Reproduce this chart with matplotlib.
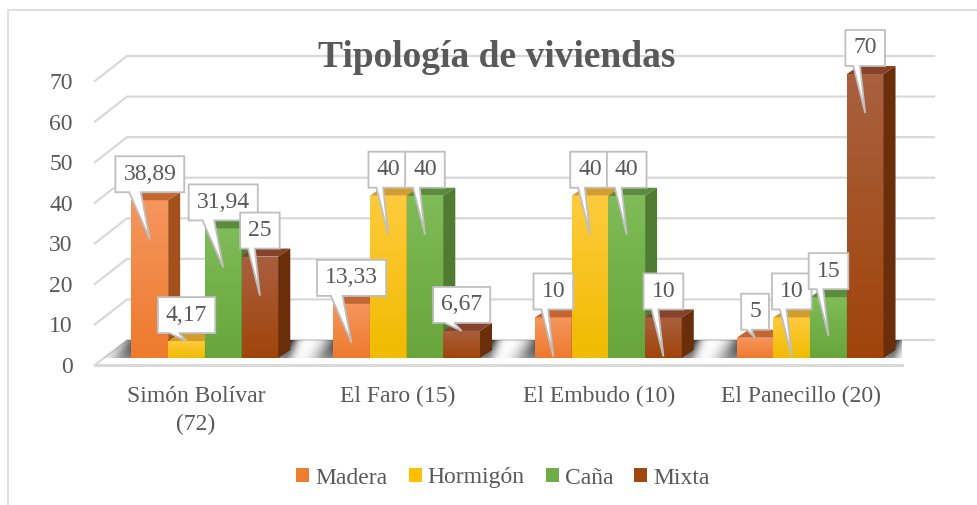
import numpy as np
import matplotlib.pyplot as plt
from matplotlib.patches import Polygon, Rectangle, Patch
from matplotlib.colors import LinearSegmentedColormap

plt.rcParams['font.family'] = ['Liberation Serif', 'DejaVu Serif']

categories = ['Simón Bolívar\n(72)', 'El Faro (15)', 'El Embudo (10)', 'El Panecillo (20)']
series = ['Madera', 'Hormigón', 'Caña', 'Mixta']
madera = [38.89, 13.33, 10, 5]
hormigon = [4.17, 40, 40, 10]
cana = [31.94, 40, 40, 15]
mixta = [25, 6.67, 10, 70]
yticks = [0, 10, 20, 30, 40, 50, 60, 70]

base_col = ['#ED7D31', '#FFC000', '#70AD47', '#9E480E']
front_top = ['#F5965E', '#FFCB3D', '#7FBB57', '#A9603F']
front_bot = ['#EE7A2D', '#F0BB00', '#68A53B', '#A0440A']
top_face = ['#C46631', '#D29D2C', '#5B8C3C', '#86422A']
side_face = ['#A4501C', '#B98B00', '#4F7B33', '#6A2E0B']
TXT = '#595959'
GRID = '#d9d9d9'

W, H, DPI = 977, 505, 100
fig = plt.figure(figsize=(W / DPI, H / DPI), dpi=DPI)
ax = fig.add_axes([95 / W, 140 / H, 807 / W, 284 / H])
SX = 807 / 4.0   # pixels per category
SY = 284 / 70.0  # pixels per value unit


def px(dx, dy):
    return dx / SX, dy / SY


# back wall + left wall gridlines (fake 3d)
wx, wy = px(32, 25)
for v in yticks:
    ax.plot([-0.5, -0.5 + wx, 3.5 + wx], [v, v + wy, v + wy], color=GRID, lw=1.6,
            clip_on=False, zorder=1, solid_joinstyle='miter')
ax.plot([-0.5, 3.5], [0, 0], color=GRID, lw=2.2, clip_on=False, zorder=1)
floor = Polygon([(-0.5, 0), (3.5, 0), (3.5 + wx, wy), (-0.5 + wx, wy)], closed=True,
                facecolor='none', edgecolor='none', zorder=1.5, clip_on=False)
ax.add_patch(floor)

# bars sit a bit behind the front edge of the floor
bx, by = px(9, 7)
ddx, ddy = px(12, 8)
bw = 36.7 / SX
values = [madera, hormigon, cana, mixta]
grad = np.linspace(0, 1, 64).reshape(-1, 1)

# soft shadow of each group on the floor
for i in range(len(categories)):
    left = (i + bx - 2 * bw) * SX
    right = (i + bx + 2 * bw) * SX + 12
    x_lo, x_hi = left - 45, right + 30
    gx = np.linspace(x_lo, x_hi, 160)
    gy = np.linspace(by * SY, wy * SY, 24)
    X, Y = np.meshgrid(gx, gy)
    shift = (Y - by * SY) * 32 / 25 * 0.6
    L = left + shift - 4
    R = right + shift * 0.3 - 6
    fx = np.where(X < L, np.exp(-((L - X) / 16.0) ** 2), 1.0)
    fx = np.where(X > R, np.exp(-((X - R) / 9.0) ** 2), fx)
    fy = 0.55 + 0.45 * (Y - gy[0]) / (gy[-1] - gy[0])
    rgba = np.zeros(X.shape + (4,))
    rgba[..., 3] = 0.85 * fx * fy
    im = ax.imshow(rgba, extent=[x_lo / SX, x_hi / SX, by, wy], origin='lower',
                   aspect='auto', interpolation='bilinear', zorder=2)
    im.set_clip_path(floor)

bar_info = []
for j, vals in enumerate(values):
    xs = np.arange(len(categories)) + bx + (j - 1.5) * bw
    z = 4 + j * 0.1
    bars = ax.bar(xs, vals, width=bw, bottom=by, color=base_col[j], linewidth=0, zorder=z)
    cmap = LinearSegmentedColormap.from_list('g%d' % j, [front_bot[j], front_top[j]])
    for rect, v in zip(bars, vals):
        x0, y0 = rect.get_x(), rect.get_y()
        w, h = rect.get_width(), rect.get_height()
        im = ax.imshow(grad, extent=[x0, x0 + w, y0, y0 + h], origin='lower', cmap=cmap,
                       aspect='auto', interpolation='bilinear', zorder=z + 0.01)
        im.set_clip_path(rect)
        top = y0 + h
        ax.add_patch(Polygon([(x0, top), (x0 + w, top), (x0 + w + ddx, top + ddy),
                              (x0 + ddx, top + ddy)], closed=True, facecolor=top_face[j],
                             edgecolor='none', zorder=z + 0.02, clip_on=False))
        ax.add_patch(Polygon([(x0 + w, y0), (x0 + w + ddx, y0 + ddy),
                              (x0 + w + ddx, top + ddy), (x0 + w, top)], closed=True,
                             facecolor=side_face[j], edgecolor='none', zorder=z + 0.02,
                             clip_on=False))
        bar_info.append((x0 + w / 2, top, h, v))

ax.set_xlim(-0.5, 3.5)
ax.set_ylim(0, 70)
ax.set_aspect('auto')

# data label callouts
renderer = fig.canvas.get_renderer()
bh = 36 / SY
for n, (xc, top, h, v) in enumerate(bar_info):
    label = ('%.2f' % v).rstrip('0').rstrip('.').replace('.', ',')
    z = 10 + n * 0.1
    y0 = top + 8 / SY
    t = ax.text(xc, y0 + bh / 2, label, ha='center', va='center', fontsize=17,
                color=TXT, zorder=z + 0.05)
    tw = t.get_window_extent(renderer).width
    bwid = (tw + 16) / SX
    L, R = xc - bwid / 2, xc + bwid / 2
    ty = top - 39 / SY if h * SY > 39 else top
    p1, p2 = L + 0.2 * bwid, L + 0.37 * bwid
    ax.add_patch(Polygon([(L, y0), (p1, y0), (xc, ty), (p2, y0), (R, y0),
                          (R, y0 + bh), (L, y0 + bh)], closed=True, facecolor='white',
                         edgecolor='#bfbfbf', lw=1.3, joinstyle='miter', zorder=z,
                         clip_on=False))

ax.set_yticks(yticks)
ax.set_xticks(range(len(categories)), categories)
ax.tick_params(axis='y', length=0, pad=16, labelsize=17, labelcolor=TXT)
ax.tick_params(axis='x', length=0, pad=15, labelsize=17, labelcolor=TXT)
for lbl in ax.get_xticklabels():
    lbl.set_linespacing(1.45)
for s in ax.spines.values():
    s.set_visible(False)
ax.patch.set_alpha(0)

fig.text(497 / W, (H - 67) / H, 'Tipología de viviendas', ha='center', va='baseline',
         fontsize=27, fontweight='bold', color=TXT)

handles = [Patch(facecolor=c, edgecolor='none') for c in base_col]
fig.legend(handles, series, loc='center', bbox_to_anchor=(503 / W, 27 / H), ncol=4,
           frameon=False, fontsize=17, handlelength=0.55, handleheight=0.55,
           handletextpad=0.25, columnspacing=0.9, labelcolor=TXT)

fig.patches.append(Rectangle((8 / W, -0.1), 1.2, (H - 10) / H + 0.1, transform=fig.transFigure,
                             fill=False, edgecolor=GRID, lw=1.2))

fig.savefig('out.png', dpi=DPI)
